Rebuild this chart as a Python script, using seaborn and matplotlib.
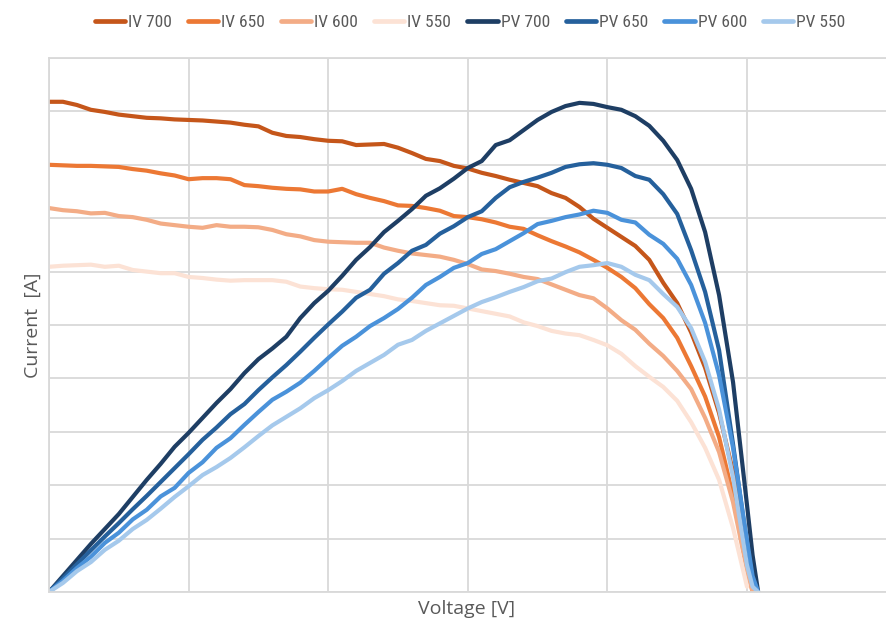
import numpy as np
import matplotlib
matplotlib.use("Agg")
import matplotlib.pyplot as plt
from matplotlib.lines import Line2D
from matplotlib import font_manager
import seaborn as sns

nan = np.nan

# ---- data ----
voltage = list(range(0, 51)) + [50.4, 50.8]

iv_700 = [9.18, 9.18, 9.12, 9.03, 8.99, 8.94, 8.91, 8.88, 8.87, 8.85,
          8.84, 8.83, 8.81, 8.79, 8.75, 8.72, 8.60, 8.54, 8.52, 8.48,
          8.45, 8.44, 8.37, 8.38, 8.39, 8.32, 8.22, 8.11, 8.07, 7.98,
          7.93, 7.85, 7.79, 7.72, 7.66, 7.60, 7.47,
          7.38, 7.21, 6.99, 6.82, 6.65, 6.48, 6.22, 5.79, 5.41, 4.86, 4.20, 3.35, 2.25, 0.80,
          0.25, 0.0]
iv_650 = [8.00, 7.99, 7.98, 7.98, 7.97, 7.96, 7.92, 7.89, 7.84, 7.80,
          7.73, 7.75, 7.75, 7.73, 7.62, 7.60, 7.57, 7.55, 7.54, 7.50,
          7.50, 7.55, 7.45, 7.38, 7.32, 7.24, 7.23, 7.19, 7.14, 7.04,
          7.02, 6.98, 6.92, 6.84, 6.80, 6.68, 6.57,
          6.47, 6.36, 6.22, 6.07, 5.90, 5.69, 5.39, 5.13, 4.76, 4.23, 3.66, 2.90, 1.80, 0.52,
          0.0, nan]
iv_600 = [7.19, 7.15, 7.13, 7.09, 7.10, 7.04, 7.02, 6.97, 6.90, 6.87,
          6.84, 6.82, 6.87, 6.84, 6.84, 6.83, 6.78, 6.70, 6.66, 6.59,
          6.56, 6.55, 6.54, 6.54, 6.45, 6.39, 6.34, 6.31, 6.28, 6.22,
          6.14, 6.04, 6.01, 5.96, 5.90, 5.86, 5.76,
          5.66, 5.56, 5.50, 5.31, 5.09, 4.91, 4.65, 4.42, 4.14, 3.80, 3.26, 2.62, 1.68, 0.40,
          0.0, nan]
iv_550 = [6.09, 6.11, 6.12, 6.13, 6.09, 6.11, 6.03, 6.00, 5.97, 5.97,
          5.90, 5.88, 5.85, 5.83, 5.84, 5.84, 5.84, 5.81, 5.72, 5.69,
          5.67, 5.66, 5.62, 5.58, 5.54, 5.48, 5.45, 5.41, 5.37, 5.36,
          5.31, 5.26, 5.21, 5.16, 5.05, 4.98, 4.89,
          4.84, 4.81, 4.72, 4.62, 4.46, 4.23, 4.03, 3.84, 3.58, 3.18, 2.70, 2.10, 1.20, 0.10,
          nan, nan]

pv_700 = [0.0, 0.30, 0.60, 0.90, 1.18, 1.46, 1.78, 2.10, 2.40, 2.72,
          2.98, 3.26, 3.54, 3.80, 4.10, 4.36, 4.56, 4.78, 5.13, 5.41,
          5.64, 5.92, 6.22, 6.46, 6.74, 6.95, 7.17, 7.42, 7.56, 7.74,
          7.94, 8.07, 8.37, 8.46, 8.65, 8.84, 8.99,
          9.10, 9.16, 9.14, 9.08, 9.03, 8.91, 8.73, 8.45, 8.09, 7.55, 6.74, 5.56, 3.93, 1.63,
          0.69, 0.0]
pv_650 = [0.0, 0.26, 0.52, 0.78, 1.04, 1.29, 1.55, 1.80, 2.06, 2.32,
          2.58, 2.85, 3.08, 3.33, 3.52, 3.78, 4.02, 4.25, 4.50, 4.76,
          5.01, 5.25, 5.51, 5.66, 5.96, 6.16, 6.39, 6.50, 6.71, 6.85,
          7.02, 7.13, 7.38, 7.58, 7.68, 7.76, 7.85,
          7.96, 8.01, 8.03, 8.00, 7.94, 7.79, 7.72, 7.45, 7.08, 6.40, 5.62, 4.53, 2.77, 0.88,
          0.22, 0.0]
pv_600 = [0.0, 0.21, 0.45, 0.66, 0.92, 1.11, 1.36, 1.54, 1.79, 1.95,
          2.23, 2.43, 2.70, 2.88, 3.13, 3.37, 3.60, 3.75, 3.92, 4.14,
          4.38, 4.61, 4.78, 4.98, 5.13, 5.30, 5.51, 5.75, 5.90, 6.07,
          6.16, 6.33, 6.42, 6.57, 6.72, 6.89, 6.95,
          7.02, 7.07, 7.14, 7.10, 6.97, 6.92, 6.69, 6.52, 6.24, 5.75, 5.04, 4.06, 2.70, 0.97,
          0.30, 0.0]
pv_550 = [0.0, 0.17, 0.39, 0.56, 0.79, 0.96, 1.18, 1.35, 1.56, 1.78,
          1.98, 2.19, 2.34, 2.51, 2.71, 2.92, 3.12, 3.28, 3.44, 3.63,
          3.78, 3.95, 4.14, 4.29, 4.44, 4.63, 4.72, 4.89, 5.03, 5.17,
          5.31, 5.43, 5.52, 5.62, 5.71, 5.82, 5.87,
          5.99, 6.09, 6.12, 6.16, 6.09, 5.94, 5.84, 5.58, 5.34, 4.94, 4.31, 3.42, 2.15, 0.50,
          0.10, 0.0]

series_names = ["IV 700", "IV 650", "IV 600", "IV 550", "PV 700", "PV 650", "PV 600", "PV 550"]
series_values = [iv_700, iv_650, iv_600, iv_550, pv_700, pv_650, pv_600, pv_550]
series_colors = ["#C5561A", "#EC7834", "#F3AC86", "#FCE2D5",
                 "#1E3E64", "#25609C", "#4A92DA", "#A5C9EC"]

x_label = "Voltage [V]"
y_label = "Current  [A]"

# ---- fonts ----
available = {f.name for f in font_manager.fontManager.ttflist}
def pick(cands):
    for c in cands:
        if c in available:
            return c
    return "DejaVu Sans"
legend_font = pick(["Liberation Sans Narrow", "Roboto Condensed", "Noto Sans", "Liberation Sans"])
label_font = pick(["Open Sans", "Noto Sans", "Liberation Sans"])

sns.set_theme(style="white")
plt.rcParams["font.family"] = [label_font, "DejaVu Sans"]

W, H = 887, 624
fig = plt.figure(figsize=(W / 100, H / 100), dpi=100)
ax = fig.add_axes([49 / W, 32 / H, 837.6 / W, 534 / H])

lw = 3.0
for name, vals, col in zip(series_names, series_values, series_colors):
    sns.lineplot(x=voltage, y=vals, ax=ax, color=col, linewidth=lw,
                 estimator=None, sort=False, legend=False,
                 solid_capstyle="round", solid_joinstyle="round")

ax.set_xlim(0, 60)
ax.set_ylim(0, 10)
ax.set_xticks(np.arange(0, 61, 10))
ax.set_yticks(np.arange(0, 11, 1))
ax.grid(True, color="#D9D9D9", linewidth=1.3)
ax.set_axisbelow(True)
ax.tick_params(length=0, labelbottom=False, labelleft=False)
ax.set_xlabel("")
ax.set_ylabel("")
for sp in ax.spines.values():
    sp.set_visible(True)
    sp.set_color("#D9D9D9")
    sp.set_linewidth(1.3)

fig.text(467 / W, 1 - 609 / H, x_label, ha="center", va="center",
         fontsize=14, color="#595959", family=[label_font, "DejaVu Sans"])
fig.text(33 / W, 1 - 325 / H, y_label, ha="center", va="center", rotation=90,
         fontsize=14, color="#595959", family=[label_font, "DejaVu Sans"])

handles = [Line2D([0], [0], color=c, linewidth=3.4, solid_capstyle="round")
           for c in series_colors]
fig.legend(handles, series_names, loc="center", bbox_to_anchor=(470 / W, 1 - 22 / H),
           ncol=8, frameon=False, prop={"family": legend_font, "size": 12.5},
           labelcolor="#595959", handlelength=1.75, handletextpad=0.17,
           columnspacing=0.92, borderaxespad=0, borderpad=0)

fig.savefig("out.png", dpi=100)
print(legend_font, label_font)
